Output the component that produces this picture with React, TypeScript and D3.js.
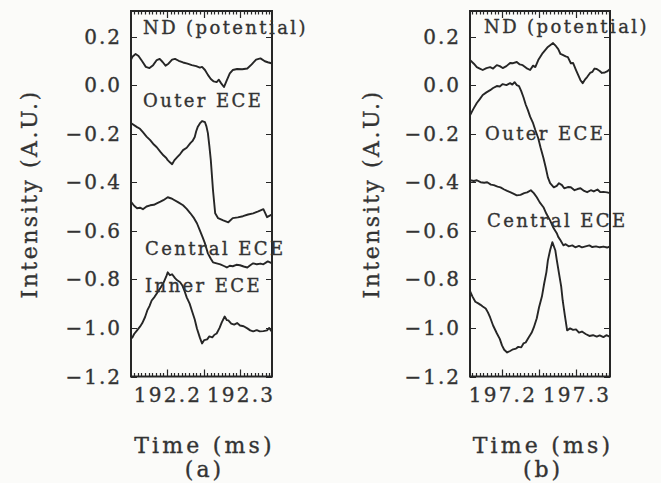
import * as d3 from 'd3';

// ── Datos (tiempo en ms, intensidad en A.U.) ───────────────────────────────
const yTicks = [0.2, 0.0, -0.2, -0.4, -0.6, -0.8, -1.0, -1.2];
const xTicksA = [192.2, 192.3];
const xTicksB = [197.2, 197.3];

const ndA: [number, number][] = [
  [192.150, 0.100], [192.153, 0.118], [192.157, 0.128], [192.161, 0.120], [192.166, 0.098],
  [192.171, 0.075], [192.176, 0.070], [192.181, 0.082], [192.186, 0.103], [192.190, 0.108],
  [192.194, 0.095], [192.198, 0.080], [192.202, 0.088], [192.207, 0.105], [192.211, 0.108],
  [192.216, 0.100], [192.222, 0.093], [192.228, 0.088], [192.234, 0.082], [192.240, 0.078],
  [192.245, 0.072], [192.248, 0.075], [192.252, 0.062], [192.256, 0.042], [192.260, 0.025],
  [192.264, 0.015], [192.268, 0.012], [192.271, 0.022], [192.274, 0.008], [192.278, -0.008],
  [192.282, 0.020], [192.286, 0.048], [192.290, 0.062], [192.296, 0.066], [192.303, 0.065],
  [192.310, 0.068], [192.316, 0.085], [192.322, 0.105], [192.328, 0.110], [192.334, 0.098],
  [192.338, 0.094], [192.343, 0.090],
];

const outerA: [number, number][] = [
  [192.151, -0.157], [192.159, -0.173], [192.163, -0.180], [192.167, -0.194], [192.172, -0.212],
  [192.177, -0.227], [192.182, -0.245], [192.186, -0.256], [192.191, -0.275], [192.195, -0.289],
  [192.199, -0.300], [192.201, -0.309], [192.204, -0.318], [192.207, -0.326], [192.210, -0.310],
  [192.214, -0.297], [192.218, -0.284], [192.222, -0.268], [192.227, -0.258], [192.232, -0.239],
  [192.235, -0.230], [192.238, -0.214], [192.240, -0.190], [192.242, -0.173], [192.245, -0.158],
  [192.248, -0.148], [192.252, -0.153], [192.254, -0.170], [192.256, -0.198], [192.258, -0.250],
  [192.260, -0.309], [192.263, -0.433], [192.266, -0.528], [192.270, -0.548], [192.277, -0.557],
  [192.284, -0.565], [192.290, -0.548], [192.297, -0.545], [192.304, -0.540], [192.311, -0.533],
  [192.318, -0.528], [192.325, -0.520], [192.332, -0.511], [192.335, -0.530], [192.337, -0.544],
  [192.344, -0.532],
];

const centralA: [number, number][] = [
  [192.151, -0.482], [192.155, -0.497], [192.159, -0.507], [192.163, -0.505], [192.167, -0.511],
  [192.172, -0.500], [192.177, -0.495], [192.182, -0.493], [192.186, -0.487], [192.191, -0.480],
  [192.195, -0.474], [192.201, -0.462], [192.205, -0.466], [192.208, -0.470], [192.215, -0.482],
  [192.222, -0.495], [192.227, -0.510], [192.232, -0.528], [192.237, -0.548], [192.241, -0.569],
  [192.245, -0.598], [192.249, -0.628], [192.252, -0.652], [192.256, -0.693], [192.260, -0.715],
  [192.263, -0.730], [192.268, -0.734], [192.273, -0.738], [192.278, -0.745], [192.282, -0.751],
  [192.286, -0.744], [192.290, -0.746], [192.295, -0.740], [192.300, -0.742], [192.305, -0.747],
  [192.310, -0.751], [192.314, -0.742], [192.318, -0.734], [192.323, -0.738], [192.328, -0.735],
  [192.332, -0.738], [192.338, -0.726], [192.344, -0.734],
];

const innerA: [number, number][] = [
  [192.152, -1.043], [192.155, -1.025], [192.159, -1.010], [192.163, -0.995], [192.166, -0.981],
  [192.170, -0.955], [192.173, -0.928], [192.176, -0.910], [192.179, -0.887], [192.183, -0.872],
  [192.186, -0.858], [192.190, -0.840], [192.195, -0.816], [192.199, -0.788], [192.201, -0.771],
  [192.204, -0.783], [192.207, -0.779], [192.211, -0.795], [192.214, -0.804], [192.218, -0.812],
  [192.221, -0.825], [192.224, -0.848], [192.227, -0.874], [192.231, -0.900], [192.234, -0.928],
  [192.238, -0.965], [192.241, -1.002], [192.245, -1.040], [192.248, -1.064], [192.251, -1.050],
  [192.255, -1.047], [192.258, -1.035], [192.262, -1.039], [192.265, -1.028], [192.268, -1.023],
  [192.272, -1.000], [192.275, -0.977], [192.279, -0.953], [192.282, -0.968], [192.284, -0.969],
  [192.288, -0.982], [192.292, -0.986], [192.296, -0.980], [192.300, -0.990], [192.305, -0.993],
  [192.310, -1.002], [192.314, -1.010], [192.318, -1.014], [192.323, -1.009], [192.327, -1.014],
  [192.332, -1.013], [192.337, -1.010], [192.340, -1.000], [192.343, -1.014],
];

const ndB: [number, number][] = [
  [197.157, 0.103], [197.162, 0.088], [197.166, 0.074], [197.170, 0.068], [197.174, 0.062],
  [197.179, 0.070], [197.184, 0.074], [197.188, 0.068], [197.193, 0.082], [197.197, 0.078],
  [197.201, 0.070], [197.206, 0.078], [197.211, 0.091], [197.215, 0.090], [197.220, 0.095],
  [197.224, 0.085], [197.228, 0.082], [197.233, 0.070], [197.238, 0.062], [197.242, 0.080],
  [197.245, 0.074], [197.249, 0.103], [197.255, 0.132], [197.262, 0.157], [197.269, 0.173],
  [197.273, 0.160], [197.276, 0.148], [197.279, 0.128], [197.282, 0.124], [197.286, 0.118],
  [197.289, 0.115], [197.293, 0.090], [197.296, 0.091], [197.300, 0.062], [197.303, 0.041],
  [197.306, 0.020], [197.309, 0.008], [197.312, 0.022], [197.315, 0.033], [197.319, 0.050],
  [197.322, 0.054], [197.325, 0.068], [197.328, 0.066], [197.332, 0.058], [197.335, 0.050],
  [197.339, 0.052], [197.342, 0.056], [197.346, 0.066],
];

const outerB: [number, number][] = [
  [197.157, -0.124], [197.161, -0.100], [197.166, -0.074], [197.170, -0.058], [197.174, -0.041],
  [197.179, -0.030], [197.184, -0.021], [197.188, -0.012], [197.193, -0.004], [197.197, -0.006],
  [197.201, 0.004], [197.206, 0.000], [197.211, 0.008], [197.214, 0.002], [197.217, 0.012],
  [197.220, 0.000], [197.223, -0.004], [197.226, -0.025], [197.229, -0.050], [197.232, -0.080],
  [197.235, -0.103], [197.238, -0.130], [197.242, -0.157], [197.245, -0.185], [197.249, -0.219],
  [197.252, -0.256], [197.256, -0.300], [197.259, -0.338], [197.262, -0.380], [197.265, -0.404],
  [197.270, -0.421], [197.274, -0.415], [197.277, -0.404], [197.281, -0.412], [197.284, -0.425],
  [197.289, -0.420], [197.293, -0.421], [197.298, -0.433], [197.302, -0.428], [197.306, -0.425],
  [197.311, -0.436], [197.315, -0.441], [197.320, -0.433], [197.324, -0.438], [197.329, -0.430],
  [197.333, -0.441], [197.337, -0.440], [197.342, -0.442], [197.346, -0.445],
];

const centralB: [number, number][] = [
  [197.157, -0.392], [197.162, -0.395], [197.166, -0.392], [197.171, -0.400], [197.176, -0.402],
  [197.180, -0.400], [197.185, -0.410], [197.189, -0.412], [197.194, -0.418], [197.198, -0.421],
  [197.203, -0.430], [197.207, -0.436], [197.211, -0.441], [197.216, -0.448], [197.220, -0.454],
  [197.225, -0.452], [197.230, -0.445], [197.234, -0.442], [197.239, -0.433], [197.243, -0.445],
  [197.247, -0.462], [197.251, -0.483], [197.256, -0.503], [197.260, -0.530], [197.265, -0.557],
  [197.269, -0.585], [197.274, -0.610], [197.276, -0.625], [197.279, -0.639], [197.283, -0.660],
  [197.286, -0.655], [197.290, -0.664], [197.295, -0.660], [197.299, -0.668], [197.304, -0.662],
  [197.308, -0.668], [197.313, -0.664], [197.318, -0.660], [197.322, -0.667], [197.327, -0.664],
  [197.332, -0.668], [197.337, -0.665], [197.342, -0.669], [197.346, -0.664],
];

const innerB: [number, number][] = [
  [197.157, -0.850], [197.160, -0.870], [197.164, -0.892], [197.168, -0.899], [197.171, -0.905],
  [197.174, -0.912], [197.178, -0.920], [197.181, -0.936], [197.184, -0.957], [197.188, -0.990],
  [197.193, -1.022], [197.197, -1.045], [197.200, -1.072], [197.203, -1.090], [197.207, -1.101],
  [197.211, -1.095], [197.215, -1.088], [197.219, -1.085], [197.222, -1.078], [197.226, -1.080],
  [197.229, -1.064], [197.232, -1.060], [197.236, -1.039], [197.240, -1.020], [197.243, -0.998],
  [197.247, -0.960], [197.250, -0.916], [197.254, -0.870], [197.257, -0.817], [197.260, -0.770],
  [197.262, -0.722], [197.265, -0.680], [197.268, -0.647], [197.272, -0.680], [197.274, -0.720],
  [197.277, -0.775], [197.280, -0.830], [197.282, -0.887], [197.285, -0.950], [197.288, -1.010],
  [197.292, -1.002], [197.296, -1.008], [197.300, -1.006], [197.304, -1.019], [197.308, -1.015],
  [197.313, -1.025], [197.318, -1.033], [197.323, -1.030], [197.328, -1.036], [197.332, -1.031],
  [197.337, -1.038], [197.341, -1.030], [197.346, -1.037],
];

// ── Estilo ─────────────────────────────────────────────────────────────────
const W = 661;
const H = 483;
const INK = '#262626';
const TXT = '#333333';
const FONT = '"DejaVu Serif", serif';

type Label = { text: string; x: number; y: number };

type PanelDef = {
  left: number;
  right: number;
  xDomain: [number, number];
  xTicks: number[];
  series: [number, number][][];
  labels: Label[];
  yTitleX: number;
  tag: string;
};

const TOP = 11;
const BOTTOM = 376.5;

const panels: PanelDef[] = [
  {
    left: 131, right: 272,
    xDomain: [192.1507, 192.3438],
    xTicks: xTicksA,
    series: [ndA, outerA, centralA, innerA],
    labels: [
      { text: 'ND (potential)', x: 143, y: 34 },
      { text: 'Outer ECE', x: 143, y: 107 },
      { text: 'Central ECE', x: 145, y: 255 },
      { text: 'Inner ECE', x: 145, y: 292 },
    ],
    yTitleX: 37,
    tag: '(a)',
  },
  {
    left: 470, right: 610,
    xDomain: [197.1568, 197.3459],
    xTicks: xTicksB,
    series: [ndB, outerB, centralB, innerB],
    labels: [
      { text: 'ND (potential)', x: 484, y: 33 },
      { text: 'Outer ECE', x: 485, y: 140 },
      { text: 'Central ECE', x: 487, y: 227 },
    ],
    yTitleX: 379,
    tag: '(b)',
  },
];

const textStyle = { fill: TXT, fontFamily: FONT, stroke: TXT, strokeWidth: 0.35 };

function Panel({ p, idx }: { p: PanelDef; idx: number }) {
  const x = d3.scaleLinear().domain(p.xDomain).range([p.left, p.right]);
  const y = d3.scaleLinear().domain([-1.2, 0.2]).range([BOTTOM, 36.5]);
  const line = d3.line<[number, number]>()
    .x(d => x(d[0]))
    .y(d => y(d[1]))
    .curve(d3.curveLinear);

  // ticks menores cada 0.005 ms, mayores cada 0.05 ms
  const minorN = d3.range(Math.ceil(p.xDomain[0] * 200), Math.floor(p.xDomain[1] * 200) + 1);
  let tickPath = '';
  for (const n of minorN) {
    const px = Math.round(x(n / 200)) + 0.5;
    const len = n % 10 === 0 ? 7 : 3.5;
    tickPath += `M${px},${BOTTOM}V${BOTTOM - len}M${px},${TOP}V${TOP + len}`;
  }
  for (const v of yTicks) {
    const py = Math.round(y(v)) + 0.5;
    tickPath += `M${p.left},${py}H${p.left + 6}M${p.right},${py}H${p.right - 6}`;
  }

  const clipId = `clip-${idx}`;
  const cx = (p.left + p.right) / 2 + 3;

  return (
    <g>
      <defs>
        <clipPath id={clipId}>
          <rect x={p.left} y={TOP} width={p.right - p.left} height={BOTTOM - TOP} />
        </clipPath>
      </defs>

      {/* curvas */}
      <g clipPath={`url(#${clipId})`}>
        {p.series.map((s, i) => (
          <path key={i} d={line(s) ?? ''} fill="none" stroke={INK}
            strokeWidth={1.9} strokeLinejoin="round" />
        ))}
      </g>

      {/* marco y ticks */}
      <rect x={p.left} y={TOP} width={p.right - p.left} height={BOTTOM - TOP}
        fill="none" stroke={INK} strokeWidth={2} />
      <path d={tickPath} fill="none" stroke={INK} strokeWidth={1.2} />

      {/* etiquetas eje y */}
      {yTicks.map((v, i) => (
        <text key={`yl${i}`} x={p.left - 9} y={y(v) + 7} textAnchor="end"
          fontSize={20} letterSpacing={2} {...textStyle}>
          {d3.format('.1f')(v).replace('-', '\u2212')}
        </text>
      ))}

      {/* etiquetas eje x */}
      {p.xTicks.map((t, i) => (
        <text key={`xl${i}`} x={x(t) + 1} y={402} textAnchor="middle"
          fontSize={20} letterSpacing={2.2} {...textStyle}>
          {d3.format('.1f')(t)}
        </text>
      ))}

      {/* etiquetas de las curvas */}
      {p.labels.map((l, i) => (
        <text key={`lb${i}`} x={l.x} y={l.y} fontSize={18} letterSpacing={2.4} {...textStyle}>
          {l.text}
        </text>
      ))}

      {/* títulos */}
      <text x={cx} y={453} textAnchor="middle" fontSize={22} letterSpacing={3.2} {...textStyle}>
        Time (ms)
      </text>
      <text x={cx} y={477} textAnchor="middle" fontSize={22} letterSpacing={3} {...textStyle}>
        {p.tag}
      </text>
      <text transform={`translate(${p.yTitleX},194) rotate(-90)`} textAnchor="middle"
        fontSize={22} letterSpacing={2.5} {...textStyle}>
        Intensity (A.U.)
      </text>
    </g>
  );
}

export default function App() {
  return (
    <svg width={W} height={H} viewBox={`0 0 ${W} ${H}`}
      style={{ position: 'absolute', left: 0, top: 0, background: '#fbfbf9' }}>
      <rect width={W} height={H} fill="#fbfbf9" />
      {panels.map((p, i) => <Panel key={i} p={p} idx={i} />)}
    </svg>
  );
}
